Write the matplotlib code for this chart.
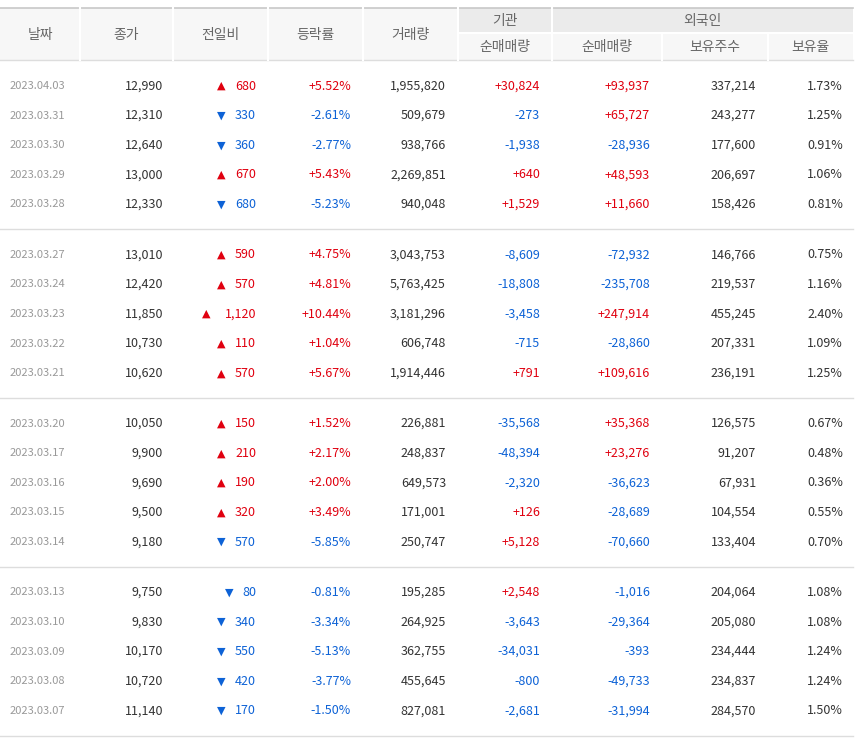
import matplotlib.pyplot as plt
import matplotlib.patches as patches

plt.rcParams['font.family'] = ['Noto Sans CJK KR', 'Noto Sans CJK JP', 'Noto Sans CJK SC', 'DejaVu Sans']

dates = ['2023.04.03', '2023.03.31', '2023.03.30', '2023.03.29', '2023.03.28',
         '2023.03.27', '2023.03.24', '2023.03.23', '2023.03.22', '2023.03.21',
         '2023.03.20', '2023.03.17', '2023.03.16', '2023.03.15', '2023.03.14',
         '2023.03.13', '2023.03.10', '2023.03.09', '2023.03.08', '2023.03.07']
close = [12990, 12310, 12640, 13000, 12330, 13010, 12420, 11850, 10730, 10620,
         10050, 9900, 9690, 9500, 9180, 9750, 9830, 10170, 10720, 11140]
change = [680, -330, -360, 670, -680, 590, 570, 1120, 110, 570,
          150, 210, 190, 320, -570, -80, -340, -550, -420, -170]
pct = [5.52, -2.61, -2.77, 5.43, -5.23, 4.75, 4.81, 10.44, 1.04, 5.67,
       1.52, 2.17, 2.00, 3.49, -5.85, -0.81, -3.34, -5.13, -3.77, -1.50]
volume = [1955820, 509679, 938766, 2269851, 940048, 3043753, 5763425, 3181296, 606748, 1914446,
          226881, 248837, 649573, 171001, 250747, 195285, 264925, 362755, 455645, 827081]
inst_net = [30824, -273, -1938, 640, 1529, -8609, -18808, -3458, -715, 791,
            -35568, -48394, -2320, 126, 5128, 2548, -3643, -34031, -800, -2681]
frgn_net = [93937, 65727, -28936, 48593, 11660, -72932, -235708, 247914, -28860, 109616,
            35368, 23276, -36623, -28689, -70660, -1016, -29364, -393, -49733, -31994]
frgn_hold = [337214, 243277, 177600, 206697, 158426, 146766, 219537, 455245, 207331, 236191,
             126575, 91207, 67931, 104554, 133404, 204064, 205080, 234444, 234837, 284570]
frgn_ratio = [1.73, 1.25, 0.91, 1.06, 0.81, 0.75, 1.16, 2.40, 1.09, 1.25,
              0.67, 0.48, 0.36, 0.55, 0.70, 1.08, 1.08, 1.24, 1.24, 1.50]

RED = '#e0000f'
BLUE = '#0d62d6'
TXT = '#333333'

fig = plt.figure(figsize=(8.63, 7.42), dpi=100)
ax = fig.add_axes([0, 0, 1, 1])
ax.set_xlim(0, 863)
ax.set_ylim(742, 0)
ax.axis('off')

edges = [0, 80, 173, 268, 363, 458, 552, 662, 768, 853]

# header
ax.add_patch(patches.Rectangle((0, 8), 853, 52, color='#f7f7f7', lw=0))
ax.add_patch(patches.Rectangle((458, 8), 395, 25, color='#ebebeb', lw=0))
ax.plot([0, 853], [8, 8], color='#c8c8c8', lw=1.2)
ax.plot([0, 853], [60, 60], color='#dddddd', lw=1)
for x in edges[1:6]:
    ax.plot([x, x], [8, 60], color='white', lw=1.5)
ax.plot([552, 552], [8, 60], color='white', lw=1.5)
for x in edges[6:9]:
    ax.plot([x, x], [33, 60], color='white', lw=1.5)
ax.plot([458, 853], [33, 33], color='white', lw=1.5)

hc = '#666666'
for i, name in enumerate(['날짜', '종가', '전일비', '등락률', '거래량']):
    ax.text((edges[i] + edges[i + 1]) / 2, 35, name, ha='center', va='center', fontsize=10, color=hc)
ax.text(505, 21, '기관', ha='center', va='center', fontsize=10, color=hc)
ax.text(702, 21, '외국인', ha='center', va='center', fontsize=10, color=hc)
for i, name in zip(range(5, 9), ['순매매량', '순매매량', '보유주수', '보유율']):
    ax.text((edges[i] + edges[i + 1]) / 2, 47, name, ha='center', va='center', fontsize=10, color=hc)


def col(v):
    return RED if v > 0 else BLUE


def signed(v):
    return ('+' if v > 0 else '') + f'{v:,}'


for i in range(len(dates)):
    y = 86 + (i % 5) * 29.6 + (i // 5) * 168.8
    fs = 9
    ax.text(10, y, dates[i], ha='left', va='center', fontsize=8, color='#999999')
    ax.text(edges[2] - 10, y, f'{close[i]:,}', ha='right', va='center', fontsize=fs, color=TXT)
    c = col(change[i])
    ax.text(edges[3] - 12, y, f'{abs(change[i]):,}', ha='right', va='center', fontsize=fs, color=c)
    w = 7.5 * len(f'{abs(change[i]):,}')
    ax.text(edges[3] - 20 - w, y, '▲' if change[i] > 0 else '▼', ha='right', va='center',
            fontsize=8, color=c, family='DejaVu Sans')
    ax.text(edges[4] - 12, y, ('+' if pct[i] > 0 else '') + f'{pct[i]:.2f}%', ha='right', va='center',
            fontsize=fs, color=col(pct[i]))
    ax.text(edges[5] - 12, y, f'{volume[i]:,}', ha='right', va='center', fontsize=fs, color=TXT)
    ax.text(edges[6] - 12, y, signed(inst_net[i]), ha='right', va='center', fontsize=fs, color=col(inst_net[i]))
    ax.text(edges[7] - 12, y, signed(frgn_net[i]), ha='right', va='center', fontsize=fs, color=col(frgn_net[i]))
    ax.text(edges[8] - 12, y, f'{frgn_hold[i]:,}', ha='right', va='center', fontsize=fs, color=TXT)
    ax.text(edges[9] - 10, y, f'{frgn_ratio[i]:.2f}%', ha='right', va='center', fontsize=fs, color=TXT)

for ly in [229, 398, 567, 736]:
    ax.plot([0, 853], [ly, ly], color='#dddddd', lw=1)

fig.savefig('out.png', dpi=100)
